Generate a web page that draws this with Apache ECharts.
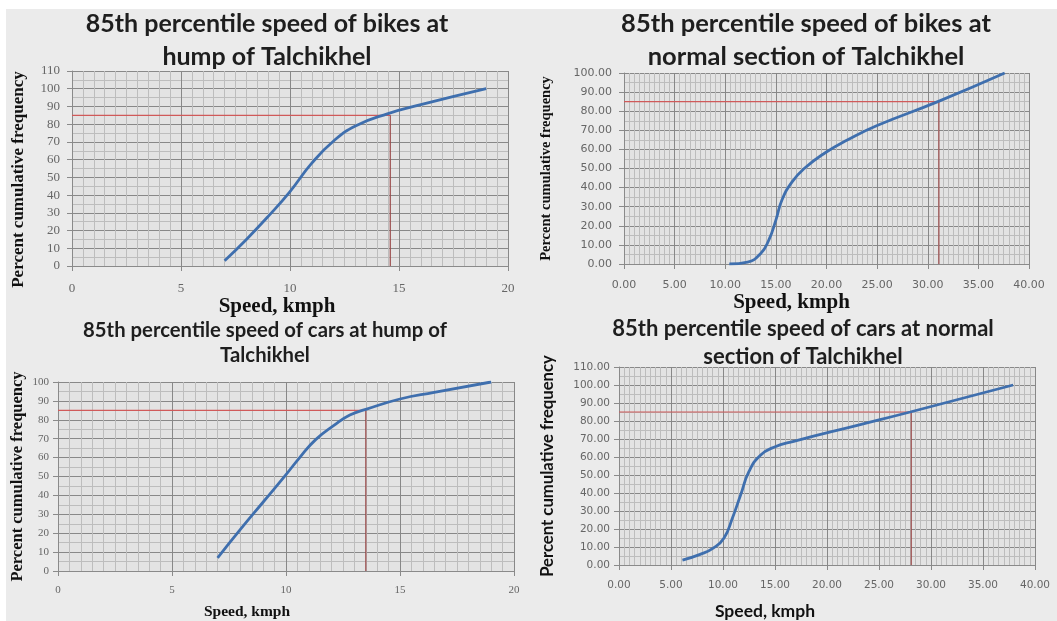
<!DOCTYPE html>
<html><head><meta charset="utf-8">
<script src="https://cdn.jsdelivr.net/npm/echarts@6/dist/echarts.min.js"></script>
<style>
html,body{margin:0;padding:0;background:#ffffff;width:1057px;height:621px;overflow:hidden}
#bg{position:absolute;left:6px;top:9px;width:1051px;height:612px;background:#ebebeb}
#c{position:absolute;left:0;top:0;width:1057px;height:621px}
</style></head>
<body><div id="bg"></div><div id="c"></div>
<script>
// ---- data ----
const titles = [
  "85th percentile speed of bikes at\nhump of Talchikhel",
  "85th percentile speed of bikes at\nnormal section of Talchikhel",
  "85th percentile speed of cars at hump of\nTalchikhel",
  "85th percentile speed of cars at normal\nsection of Talchikhel"
];
const xName = "Speed, kmph";
const yName = "Percent cumulative frequency";

const bikeHumpSpeed = [7.0, 8.0, 9.0, 10.0, 11.0, 12.0, 13.0, 14.5, 16.0, 19.0];
const bikeHumpPct   = [3, 15, 28, 42, 58, 70.5, 79, 86, 91, 100];

const bikeNormalSpeed = [10.4, 12.2, 13.5, 14.3, 15.0, 15.6, 16.6, 17.8, 19.8, 22.1, 25.0, 31.0, 37.6];
const bikeNormalPct   = [0, 1, 5.5, 12.5, 23, 33.5, 43, 50, 58, 65, 72.5, 85, 100];

const carHumpSpeed = [7.0, 8.0, 9.0, 10.0, 10.6, 11.3, 12.1, 12.8, 13.5, 15.0, 16.5, 19.0];
const carHumpPct   = [7, 22, 36.5, 51, 60, 69.5, 77, 82.5, 85.5, 91, 94.5, 100];

const carNormalSpeed = [6.1, 7.8, 9.1, 10.1, 10.9, 11.7, 12.5, 13.6, 14.9, 16.8, 23.2, 28.0, 37.9];
const carNormalPct   = [2.7, 5.9, 9.5, 15, 26, 39, 52, 61, 65.4, 68.7, 78, 85, 100];

const p85Level = 85;
const p85Speed = [14.6, 31.1, 13.5, 28.1];

const xMax = [20, 40, 20, 40];
const xStep = [5, 5, 5, 5];
const yMax = [110, 100, 100, 110];
const yStep = [10, 10, 10, 10];
const decimalLabels = [false, true, false, true];

// ---- layout / style ----
const grids = [
  {left: 72, right: 549, top: 71, bottom: 355},
  {left: 624, right: 28, top: 73, bottom: 357},
  {left: 58, right: 543, top: 382, bottom: 50},
  {left: 619, right: 22, top: 367, bottom: 54}
];
const serif = "Liberation Serif";
const sans = "Lato";
const tickSans = "DejaVu Sans";
const panelStyle = [
  {tickFont: serif, tickSize: 13, xMargin: 16, yMargin: 12, xNameFont: serif, xNameSize: 21, xGap: 25, xPad: [0, 26, 0, 0], yNameFont: serif, yNameSize: 17, yGap: 45, yPad: [0, 22, 0, 0]},
  {tickFont: tickSans, tickSize: 11, xMargin: 16, yMargin: 12, xNameFont: serif, xNameSize: 21, xGap: 28, xPad: [0, 70, 0, 0], yNameFont: serif, yNameSize: 14.5, yGap: 70, yPad: [0, 0, 0, 0]},
  {tickFont: serif, tickSize: 11, xMargin: 14, yMargin: 9, xNameFont: serif, xNameSize: 15.5, xGap: 33, xPad: [0, 78, 0, 0], yNameFont: serif, yNameSize: 16.5, yGap: 32, yPad: [0, 0, 0, 0]},
  {tickFont: tickSans, tickSize: 10.5, xMargin: 15, yMargin: 9, xNameFont: sans, xNameSize: 17.5, xGap: 37, xPad: [0, 124, 0, 0], yNameFont: sans, yNameSize: 16.7, yGap: 63, yPad: [0, 0, 0, 0]}
];
const titlePos = [
  {x: 262, top: 2, size: 25, lh: 33},
  {x: 801, top: 2, size: 25.5, lh: 33},
  {x: 260, top: 313, size: 20.3, lh: 25},
  {x: 798, top: 310, size: 22, lh: 28}
];
const curves = [
  [bikeHumpSpeed, bikeHumpPct],
  [bikeNormalSpeed, bikeNormalPct],
  [carHumpSpeed, carHumpPct],
  [carNormalSpeed, carNormalPct]
];

const chart = echarts.init(document.getElementById('c'), null, {renderer: 'canvas'});
const option = {
  backgroundColor: 'transparent',
  animation: false,
  title: titles.map((t, i) => ({
    text: t, left: titlePos[i].x, top: titlePos[i].top, textAlign: 'center',
    textStyle: {fontFamily: sans, fontWeight: 'bold', fontSize: titlePos[i].size, lineHeight: titlePos[i].lh, color: '#1e1e1e'}
  })),
  grid: grids.map(g => Object.assign({show: true, backgroundColor: '#e3e3e3', borderWidth: 0, containLabel: false}, g)),
  xAxis: grids.map((g, i) => ({
    type: 'value', gridIndex: i, min: 0, max: xMax[i], interval: xStep[i],
    name: xName, nameLocation: 'middle', nameGap: panelStyle[i].xGap,
    nameTextStyle: {fontFamily: panelStyle[i].xNameFont, fontWeight: 'bold', fontSize: panelStyle[i].xNameSize, color: '#111', padding: panelStyle[i].xPad},
    axisLine: {show: true, lineStyle: {color: '#8a8a8a', width: 1}},
    axisTick: {show: true, length: 5, lineStyle: {color: '#8a8a8a'}},
    axisLabel: {margin: panelStyle[i].xMargin, fontFamily: panelStyle[i].tickFont, fontSize: panelStyle[i].tickSize, color: '#666',
      formatter: v => decimalLabels[i] ? v.toFixed(2) : String(v)},
    splitLine: {show: true, lineStyle: {color: '#888888', width: 1}},
    minorTick: {show: false, splitNumber: 10},
    minorSplitLine: {show: true, lineStyle: {color: '#bdbdbd', width: 1}}
  })),
  yAxis: grids.map((g, i) => ({
    type: 'value', gridIndex: i, min: 0, max: yMax[i], interval: yStep[i],
    name: yName, nameLocation: 'middle', nameGap: panelStyle[i].yGap, nameRotate: 90,
    nameTextStyle: {fontFamily: panelStyle[i].yNameFont, fontWeight: 'bold', fontSize: panelStyle[i].yNameSize, color: '#111', padding: panelStyle[i].yPad},
    axisLine: {show: true, lineStyle: {color: '#8a8a8a', width: 1}},
    axisTick: {show: true, length: 5, lineStyle: {color: '#8a8a8a'}},
    axisLabel: {margin: panelStyle[i].yMargin, fontFamily: panelStyle[i].tickFont, fontSize: panelStyle[i].tickSize, color: '#666',
      formatter: v => decimalLabels[i] ? v.toFixed(2) : String(v)},
    splitLine: {show: true, lineStyle: {color: '#888888', width: 1}},
    minorTick: {show: false, splitNumber: 2},
    minorSplitLine: {show: true, lineStyle: {color: '#bdbdbd', width: 1}}
  })),
  series: []
};
curves.forEach((c, i) => {
  option.series.push({
    type: 'line', xAxisIndex: i, yAxisIndex: i, z: 3,
    data: c[0].map((x, k) => [x, c[1][k]]),
    showSymbol: false, smooth: 0.5,
    lineStyle: {color: '#3f6fae', width: 2.8}
  });
  option.series.push({
    type: 'line', xAxisIndex: i, yAxisIndex: i, z: 2,
    data: [[0, p85Level], [p85Speed[i], p85Level]],
    showSymbol: false, lineStyle: {color: '#d05a5a', width: 1.2}
  });
  option.series.push({
    type: 'line', xAxisIndex: i, yAxisIndex: i, z: 2,
    data: [[p85Speed[i], p85Level], [p85Speed[i], 0]],
    showSymbol: false, lineStyle: {color: '#9a4a4a', width: 1.2}
  });
});
chart.setOption(option);
</script>
</body></html>
